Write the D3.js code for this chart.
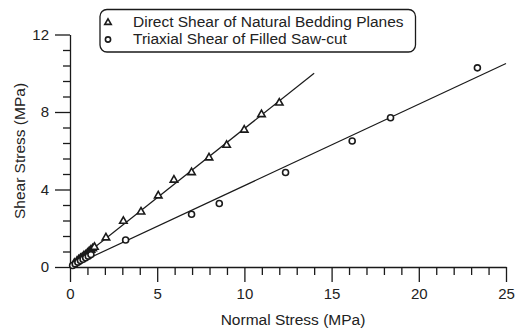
<!DOCTYPE html>
<html>
<head>
<meta charset="utf-8">
<script src="https://cdn.jsdelivr.net/npm/d3@7"></script>
<style>
  body { margin: 0; background: #fff; }
  svg { display: block; }
  text { font-family: "Liberation Sans", Arial, sans-serif; fill: #222; }
</style>
</head>
<body>
<svg id="chart" width="516" height="330"></svg>
<script>
// ---- data ----
const directX = [0.25, 0.4, 0.5, 0.6, 0.7, 0.8, 0.9, 1.0, 1.1, 1.2, 1.3, 1.4, 2.06, 3.06, 4.07, 5.06, 5.96, 6.97, 7.97, 8.98, 9.99, 10.98, 12.0];
const directY = [0.2, 0.3, 0.38, 0.45, 0.5, 0.58, 0.63, 0.72, 0.8, 0.88, 0.95, 1.03, 1.51, 2.37, 2.85, 3.68, 4.49, 4.88, 5.64, 6.29, 7.07, 7.87, 8.47];
const triaxX = [0.15, 0.3, 0.45, 0.6, 0.75, 0.9, 1.05, 1.2, 3.19, 6.97, 8.56, 12.36, 16.18, 18.38, 23.36];
const triaxY = [0.08, 0.16, 0.25, 0.33, 0.4, 0.48, 0.56, 0.64, 1.39, 2.72, 3.28, 4.88, 6.5, 7.7, 10.28];
const directFitX = [0.1, 14];
const directFitY = [0.08, 10];
const triaxFitX = [0.1, 25];
const triaxFitY = [0.04, 10.5];
const xMajor = [0, 5, 10, 15, 20, 25];
const yMajor = [0, 4, 8, 12];
const legendLabels = ["Direct Shear of Natural Bedding Planes", "Triaxial Shear of Filled Saw-cut"];
const xTitle = "Normal Stress (MPa)";
const yTitle = "Shear Stress (MPa)";

// ---- drawing ----
const svg = d3.select("#chart");
const x = d3.scaleLinear().domain([0, 25]).range([70, 506]);
const y = d3.scaleLinear().domain([0, 12]).range([267, 34.5]);
const ink = "#1a1a1a";

const xMinor = d3.range(1, 25).filter(v => v % 5 !== 0);
const yMinor = d3.range(0.8, 12, 0.8).filter(v => Math.abs(v / 4 - Math.round(v / 4)) > 1e-6);

// x axis
const gx = svg.append("g").attr("transform", `translate(0,${y(0)})`);
gx.call(d3.axisBottom(x).tickValues(xMajor).tickSize(15).tickSizeOuter(0).tickPadding(6).tickFormat(d3.format("d")));
gx.append("g").call(d3.axisBottom(x).tickValues(xMinor).tickSize(8).tickSizeOuter(0).tickFormat(""))
  .select(".domain").remove();
// y axis
const gy = svg.append("g").attr("transform", `translate(${x(0)},0)`);
gy.call(d3.axisLeft(y).tickValues(yMajor).tickSize(15).tickSizeOuter(0).tickPadding(6).tickFormat(d3.format("d")));
gy.append("g").call(d3.axisLeft(y).tickValues(yMinor).tickSize(7).tickSizeOuter(0).tickFormat(""))
  .select(".domain").remove();

svg.selectAll(".domain, .tick line").attr("stroke", ink).attr("stroke-width", 1.3);
svg.selectAll(".tick text").attr("font-size", 15).attr("fill", "#222")
  .attr("font-family", "'Liberation Sans', Arial, sans-serif");

// fit lines
const line = d3.line().x(d => x(d[0])).y(d => y(d[1]));
svg.append("path").datum(directFitX.map((v, i) => [v, directFitY[i]]))
  .attr("d", line).attr("fill", "none").attr("stroke", ink).attr("stroke-width", 1.2);
svg.append("path").datum(triaxFitX.map((v, i) => [v, triaxFitY[i]]))
  .attr("d", line).attr("fill", "none").attr("stroke", ink).attr("stroke-width", 1.2);

// markers
const tri = d3.symbol().type(d3.symbolTriangle).size(24);
svg.append("g").selectAll("path").data(directX.map((v, i) => [v, directY[i]])).join("path")
  .attr("d", tri).attr("transform", d => `translate(${x(d[0])},${y(d[1])})`)
  .attr("fill", "#fff").attr("stroke", ink).attr("stroke-width", 1.6);
svg.append("g").selectAll("circle").data(triaxX.map((v, i) => [v, triaxY[i]])).join("circle")
  .attr("cx", d => x(d[0])).attr("cy", d => y(d[1])).attr("r", 3)
  .attr("fill", "#fff").attr("stroke", ink).attr("stroke-width", 1.6);

// axis titles
svg.append("text").attr("x", 293).attr("y", 325).attr("text-anchor", "middle")
  .attr("font-size", 15.5).text(xTitle);
svg.append("text").attr("transform", "translate(25,151) rotate(-90)").attr("text-anchor", "middle")
  .attr("font-size", 15.5).text(yTitle);

// legend
const lg = svg.append("g");
lg.append("rect").attr("x", 100).attr("y", 9.5).attr("width", 315.5).attr("height", 42.5)
  .attr("rx", 7).attr("fill", "#fff").attr("stroke", ink).attr("stroke-width", 1.3);
lg.append("path").attr("d", d3.symbol().type(d3.symbolTriangle).size(18))
  .attr("transform", "translate(108,22.5)").attr("fill", "#fff").attr("stroke", ink).attr("stroke-width", 1.6);
lg.append("circle").attr("cx", 108).attr("cy", 39.5).attr("r", 2.6)
  .attr("fill", "#fff").attr("stroke", ink).attr("stroke-width", 1.6);
lg.selectAll("text.lab").data(legendLabels).join("text").attr("class", "lab")
  .attr("x", 133).attr("y", (d, i) => 27 + i * 16.5).attr("font-size", 15.5).text(d => d);
</script>
</body>
</html>
